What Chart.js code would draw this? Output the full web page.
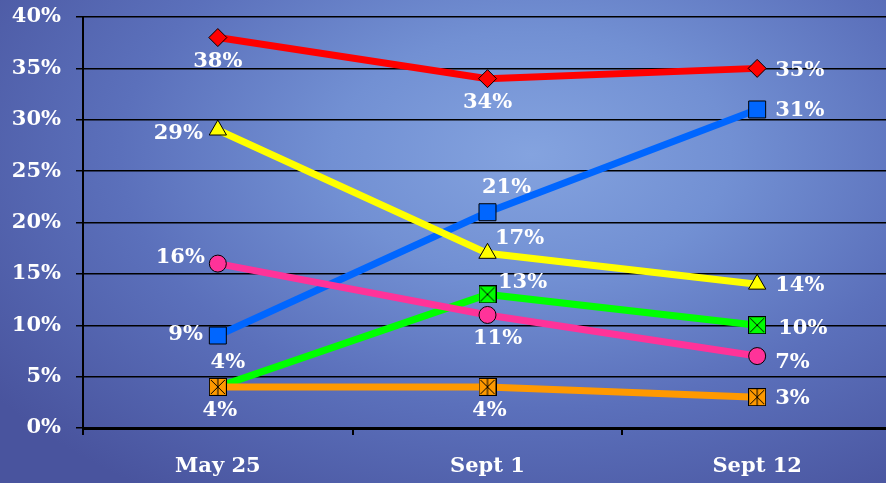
<!DOCTYPE html>
<html>
<head>
<meta charset="utf-8">
<script src="https://cdn.jsdelivr.net/npm/chart.js@4.4.1/dist/chart.umd.min.js"></script>
<style>
  html, body { margin: 0; padding: 0; width: 886px; height: 483px; overflow: hidden; }
  body { position: relative; background: radial-gradient(ellipse 75% 85% at 60% 32%, #84a3df 0%, #7290d3 30%, #5b70bb 62%, #49549e 100%); }
  #wrap { position: absolute; left: 0; top: -3px; width: 905px; height: 486px; }
</style>
</head>
<body>
<div id="wrap"><canvas id="c" width="905" height="486"></canvas></div>
<script>
const categories = ['May 25', 'Sept 1', 'Sept 12'];
const seriesRed = [38, 34, 35];
const seriesBlue = [9, 21, 31];
const seriesYellow = [29, 17, 14];
const seriesGreen = [4, 13, 10];
const seriesPink = [16, 11, 7];
const seriesOrange = [4, 4, 3];
const yMin = 0, yMax = 40, yStep = 5;

const FONT = 'bold 21px "DejaVu Serif"';

function boxMarker(fill, withVertical) {
  const s = 18;
  const c = document.createElement('canvas');
  c.width = s; c.height = s;
  const g = c.getContext('2d');
  g.fillStyle = fill;
  g.fillRect(0, 0, s, s);
  g.strokeStyle = '#000';
  g.lineWidth = 1;
  g.strokeRect(0.5, 0.5, s - 1, s - 1);
  g.beginPath();
  g.moveTo(2, 2); g.lineTo(s - 2, s - 2);
  g.moveTo(s - 2, 2); g.lineTo(2, s - 2);
  if (withVertical) { g.moveTo(s / 2, 1); g.lineTo(s / 2, s - 1); }
  g.stroke();
  return c;
}

// label placement per point: [align, dx, dy]
const labelPlacement = {
  red:    [['center', 0, 24], ['center', 0, 24], ['left', 18, 2]],
  blue:   [['right', -15, -1], ['center', 19, -25], ['left', 18, 1]],
  yellow: [['right', -15, 4], ['center', 32, -15], ['left', 18, 1]],
  green:  [['center', 10, -24], ['center', 35, -12], ['left', 21, 3]],
  pink:   [['right', -13, -6], ['center', 10, 24], ['left', 18, 6]],
  orange: [['center', 2, 24], ['center', 2, 24], ['left', 18, 1]]
};

function ds(key, data, color, style, radius) {
  return {
    key, data,
    borderColor: color, backgroundColor: color,
    borderWidth: 7,
    pointStyle: style, pointRadius: radius, pointHoverRadius: radius,
    pointBackgroundColor: color, pointBorderColor: '#000', pointBorderWidth: 1,
    tension: 0, clip: false
  };
}

const labelPlugin = {
  id: 'labels',
  afterDatasetsDraw(chart) {
    const ctx = chart.ctx;
    ctx.save();
    ctx.font = FONT;
    ctx.fillStyle = '#ffffff';
    ctx.textBaseline = 'middle';
    chart.data.datasets.forEach((d, i) => {
      const meta = chart.getDatasetMeta(i);
      meta.data.forEach((pt, j) => {
        const p = labelPlacement[d.key][j];
        ctx.textAlign = p[0];
        ctx.fillText(d.data[j] + '%', pt.x + p[1], pt.y + p[2]);
      });
    });
    ctx.restore();
  }
};

// Chart.js draws the first dataset on top, so the list runs from top layer to bottom layer
new Chart(document.getElementById('c'), {
  type: 'line',
  data: {
    labels: categories,
    datasets: [
      ds('orange', seriesOrange, '#ff9900', boxMarker('#ff9900', true), 9),
      ds('pink', seriesPink, '#ff3399', 'circle', 8.5),
      ds('green', seriesGreen, '#00ff00', boxMarker('#00ff00', false), 9),
      ds('yellow', seriesYellow, '#ffff00', 'triangle', 10),
      ds('blue', seriesBlue, '#0066ff', 'rect', 12),
      ds('red', seriesRed, '#ff0000', 'rectRot', 9)
    ]
  },
  options: {
    responsive: false,
    animation: false,
    events: [],
    layout: { padding: { top: 20, right: 0, left: 0, bottom: 0 } },
    plugins: { legend: { display: false }, tooltip: { enabled: false } },
    scales: {
      x: {
        offset: true,
        grid: { display: true, offset: true, drawOnChartArea: false, drawTicks: true, tickLength: 7, color: '#000', lineWidth: 2 },
        border: { display: true, color: '#000', width: 3 },
        ticks: { color: '#fff', font: { family: 'DejaVu Serif', weight: 'bold', size: 21 }, padding: 19 },
        afterFit(s) { s.height = 55; s.paddingLeft = 0; s.paddingRight = 0; }
      },
      y: {
        min: yMin, max: yMax,
        ticks: { stepSize: yStep, color: '#fff', font: { family: 'DejaVu Serif', weight: 'bold', size: 21 }, padding: 15, callback: v => v + '%' },
        grid: { color: '#000', lineWidth: 1.5, drawTicks: true, tickLength: 7 },
        border: { display: true, color: '#000', width: 2 },
        afterFit(s) { s.width = 83; s.paddingTop = 0; s.paddingBottom = 0; }
      }
    }
  },
  plugins: [labelPlugin]
});
</script>
</body>
</html>
